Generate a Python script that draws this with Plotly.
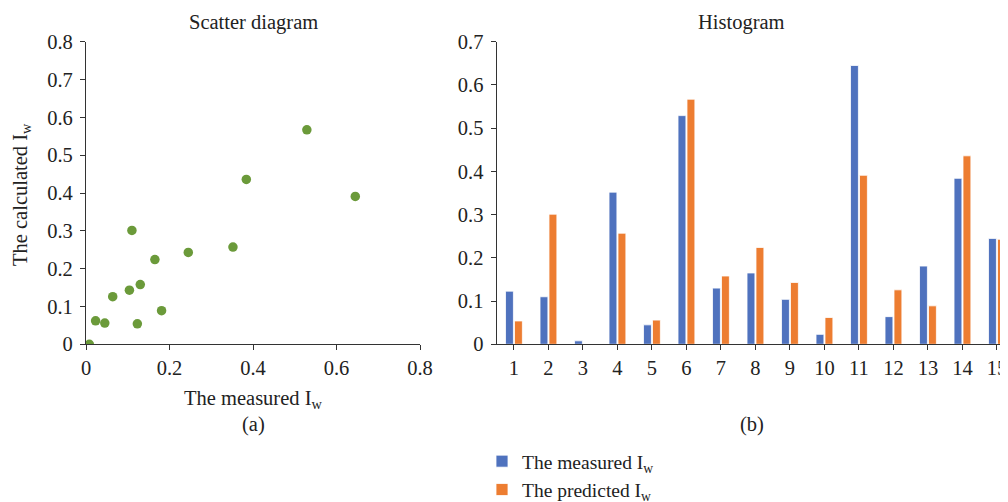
import plotly.graph_objects as go

categories = list(range(1, 16))
measured = [0.123, 0.110, 0.008, 0.352, 0.045, 0.529, 0.130, 0.165, 0.104, 0.023, 0.645, 0.064, 0.181, 0.384, 0.245]
predicted = [0.054, 0.301, 0.0, 0.257, 0.056, 0.567, 0.158, 0.224, 0.143, 0.062, 0.391, 0.126, 0.089, 0.436, 0.243]
scatter_ticks = [0, 0.2, 0.4, 0.6, 0.8]
scatter_yticks = [0, 0.1, 0.2, 0.3, 0.4, 0.5, 0.6, 0.7, 0.8]
hist_yticks = [0, 0.1, 0.2, 0.3, 0.4, 0.5, 0.6, 0.7]

# page body has an 8px margin, so the figure is drawn at (8, 8)
OFF = 8
W, H = 1008 - OFF, 502 - OFF
FONT = "Liberation Serif"
TXT = "#222222"
AX = "#333333"
FS = 20.5

def px(x):
    return (x - OFF) / W

def py(y):
    return (H - (y - OFF)) / H

fig = go.Figure()

fig.add_trace(go.Scatter(
    x=measured, y=predicted, mode="markers",
    marker=dict(color="#6B9A3A", size=9.5),
    showlegend=False, xaxis="x", yaxis="y"))

fig.add_trace(go.Bar(
    x=categories, y=measured, name="The measured I<sub>w</sub>",
    marker=dict(color="#4F72BE", line=dict(color="white", width=0.8)),
    xaxis="x2", yaxis="y2"))
fig.add_trace(go.Bar(
    x=categories, y=predicted, name="The predicted I<sub>w</sub>",
    marker=dict(color="#ED7D31", line=dict(color="white", width=0.8)),
    xaxis="x2", yaxis="y2"))

axis_common = dict(showgrid=False, zeroline=False, showline=True, linecolor=AX,
                   linewidth=1.3, ticks="outside", ticklen=5, tickcolor=AX,
                   automargin=False,
                   tickfont=dict(family=FONT, size=FS, color=TXT))

fig.update_layout(
    width=W, height=H,
    margin=dict(l=0, r=0, t=0, b=0, autoexpand=False),
    paper_bgcolor="white", plot_bgcolor="white",
    barmode="group", bargap=0.48, bargroupgap=0.12,
    xaxis=dict(domain=[px(86), px(420)], range=[0, 0.8], tickvals=scatter_ticks,
               ticktext=["0", "0.2", "0.4", "0.6", "0.8"], anchor="y", **axis_common),
    yaxis=dict(domain=[py(344.3), py(41.7)], range=[0, 0.8], tickvals=scatter_yticks,
               ticktext=["0", "0.1", "0.2", "0.3", "0.4", "0.5", "0.6", "0.7", "0.8"],
               anchor="x", ticklabelstandoff=3, **axis_common),
    xaxis2=dict(domain=[px(496.7), 1.0], range=[0.5, 15.32], tickvals=categories,
                anchor="y2", **axis_common),
    yaxis2=dict(domain=[py(344.3), py(41.7)], range=[0, 0.7], tickvals=hist_yticks,
                ticktext=["0", "0.1", "0.2", "0.3", "0.4", "0.5", "0.6", "0.7"],
                anchor="x2", ticklabelstandoff=3, **axis_common),
    legend=dict(x=px(482), y=py(442), xanchor="left", yanchor="top",
                font=dict(family=FONT, size=19.5, color=TXT), traceorder="normal",
                itemwidth=30, tracegroupgap=0, bgcolor="rgba(0,0,0,0)"),
    font=dict(family=FONT, color=TXT),
)

ann = [
    dict(text="Scatter diagram", x=px(253), y=py(22)),
    dict(text="Histogram", x=px(741), y=py(22)),
    dict(text="The measured I<sub>w</sub>", x=px(253), y=py(399)),
    dict(text="(a)", x=px(253), y=py(424)),
    dict(text="(b)", x=px(752), y=py(424)),
    dict(text="The calculated I<sub>w</sub>", x=px(22), y=py(195), textangle=-90),
]
for a in ann:
    fig.add_annotation(xref="paper", yref="paper", showarrow=False,
                       xanchor="center", yanchor="middle",
                       font=dict(family=FONT, size=FS, color=TXT), **a)

fig.write_html("out.html")
